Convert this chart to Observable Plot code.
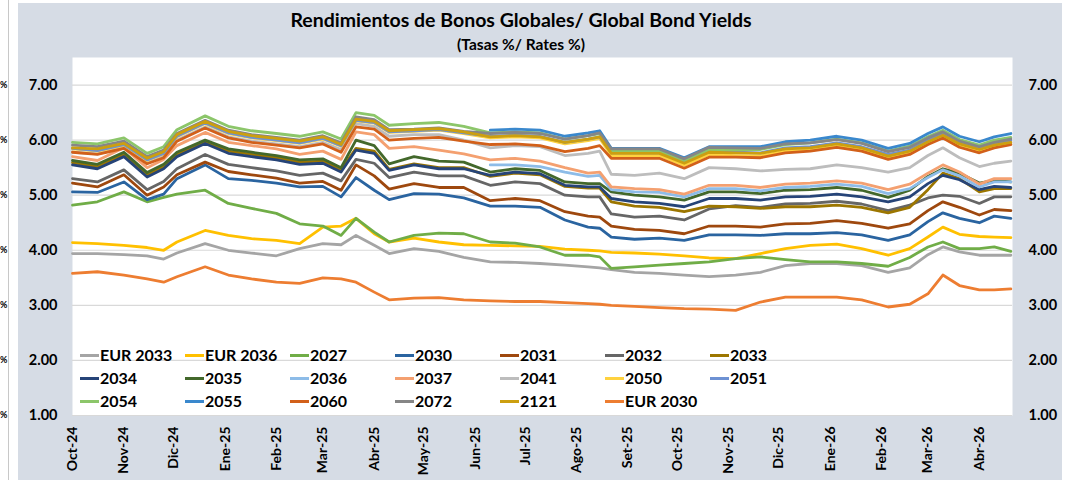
<!DOCTYPE html>
<html><head><meta charset="utf-8">
<script src="https://cdn.jsdelivr.net/npm/d3@7"></script>
<script src="https://cdn.jsdelivr.net/npm/@observablehq/plot@0.6"></script>
<style>
body{margin:0;background:#fff;font-family:Lato,"Noto Sans",sans-serif;color:#000;}
#wrap{position:relative;width:1087px;height:480px;overflow:hidden;background:#fff;}
#edge{position:absolute;left:8px;top:0;width:1px;height:480px;background:#c8c8c8;}
#panel{position:absolute;left:18px;top:3px;width:1044px;height:480px;background:#D6DCE5;}
#chart{position:absolute;left:0;top:0;}
#chart svg text{font-weight:bold;fill:#000;}
.title{position:absolute;left:0;width:1042px;text-align:center;font-weight:bold;white-space:nowrap;}
.pct{position:absolute;font-weight:bold;font-size:9px;line-height:10px;}
.lg{position:absolute;height:20px;}
.lg .sw{position:absolute;left:0;top:9px;width:19px;height:3px;}
.lg .tx{position:absolute;left:20px;top:0;font-weight:bold;font-size:16px;line-height:20px;white-space:nowrap;}
</style>
</head><body>
<div id="wrap">
  <div id="edge"></div>
  <div id="panel"></div>
  <div id="chart"></div>
  <div class="title" style="top:8px;font-size:19.5px;">Rendimientos de Bonos Globales/ Global Bond Yields</div>
  <div class="title" style="top:35px;font-size:15.5px;">(Tasas %/ Rates %)</div>
</div>
<script>
const dates = ["2024-10-01","2024-10-16","2024-11-01","2024-11-15","2024-11-25","2024-12-03","2024-12-20",
"2025-01-03","2025-01-17","2025-02-01","2025-02-15","2025-03-01","2025-03-12","2025-03-21","2025-04-01","2025-04-10",
"2025-04-25","2025-05-10","2025-05-25","2025-06-10","2025-06-25","2025-07-10","2025-07-25","2025-08-08","2025-08-15",
"2025-08-22","2025-09-05","2025-09-20","2025-10-05","2025-10-20","2025-11-05","2025-11-20","2025-12-05","2025-12-20",
"2026-01-05","2026-01-20","2026-02-05","2026-02-18","2026-03-01","2026-03-10","2026-03-20","2026-04-01","2026-04-10","2026-04-20"];

const sEUR2033 = [3.94,3.94,3.92,3.90,3.84,3.95,4.12,4.00,3.95,3.90,4.03,
4.12,4.10,4.27,4.09,3.94,4.03,3.98,3.87,3.79,3.78,3.76,
3.73,3.70,3.68,3.65,3.60,3.58,3.55,3.52,3.55,3.60,3.72,
3.76,3.76,3.72,3.60,3.68,3.92,4.06,3.97,3.91,3.91,3.91];
const sEUR2036 = [4.14,4.12,4.09,4.05,4.00,4.15,4.36,4.27,4.21,4.18,4.12,
4.42,4.44,4.58,4.30,4.15,4.22,4.15,4.10,4.09,4.08,4.07,
4.02,4.00,3.99,3.96,3.95,3.93,3.90,3.86,3.85,3.94,4.03,
4.09,4.11,4.03,3.91,4.03,4.24,4.42,4.29,4.25,4.24,4.23];
const s2027 = [4.82,4.88,5.06,4.88,4.96,5.02,5.09,4.85,4.76,4.67,4.48,
4.44,4.27,4.58,4.33,4.15,4.27,4.31,4.30,4.15,4.13,4.06,
3.91,3.91,3.88,3.67,3.70,3.73,3.76,3.79,3.85,3.88,3.83,
3.79,3.79,3.76,3.71,3.87,4.06,4.15,4.03,4.03,4.06,3.98];
const s2030 = [5.06,5.05,5.24,4.92,5.02,5.30,5.55,5.30,5.27,5.22,5.15,
5.16,4.97,5.32,5.09,4.92,5.03,5.02,4.95,4.80,4.80,4.78,
4.55,4.42,4.40,4.24,4.20,4.22,4.18,4.28,4.28,4.27,4.30,
4.30,4.32,4.28,4.18,4.28,4.52,4.68,4.58,4.50,4.62,4.58];
const s2031 = [5.22,5.15,5.37,5.00,5.15,5.37,5.60,5.43,5.37,5.31,5.22,
5.25,5.09,5.55,5.35,5.11,5.21,5.14,5.14,4.90,4.94,4.90,
4.70,4.62,4.60,4.44,4.38,4.36,4.30,4.44,4.44,4.42,4.48,
4.49,4.54,4.49,4.40,4.48,4.72,4.88,4.78,4.64,4.74,4.72];
const s2032 = [5.30,5.24,5.46,5.10,5.25,5.48,5.74,5.56,5.50,5.44,5.36,
5.40,5.26,5.65,5.58,5.32,5.42,5.35,5.35,5.18,5.24,5.21,
5.00,4.97,4.97,4.66,4.60,4.62,4.55,4.75,4.81,4.78,4.84,
4.85,4.89,4.84,4.72,4.82,4.95,5.00,4.98,4.85,4.97,4.97];
const s2033 = [5.59,5.52,5.74,5.37,5.52,5.74,5.98,5.80,5.74,5.68,5.60,
5.62,5.46,5.85,5.80,5.47,5.57,5.50,5.50,5.34,5.40,5.37,
5.16,5.13,5.13,4.88,4.80,4.78,4.70,4.80,4.79,4.76,4.79,
4.79,4.82,4.78,4.68,4.78,5.10,5.40,5.30,5.06,5.12,5.12];
const s2034 = [5.55,5.48,5.70,5.33,5.48,5.70,5.94,5.76,5.70,5.64,5.56,
5.58,5.42,5.82,5.76,5.45,5.55,5.48,5.48,5.36,5.42,5.39,
5.18,5.15,5.15,4.94,4.88,4.85,4.79,4.94,4.94,4.91,4.97,
4.98,5.02,4.97,4.88,4.97,5.21,5.36,5.28,5.10,5.16,5.14];
const s2035 = [5.63,5.56,5.78,5.41,5.56,5.78,6.00,5.84,5.78,5.72,5.64,
5.66,5.50,6.00,5.90,5.57,5.70,5.62,5.60,5.42,5.48,5.45,
5.24,5.21,5.21,5.06,5.00,4.97,4.91,5.06,5.06,5.03,5.09,
5.10,5.14,5.09,4.96,5.09,5.34,5.48,5.40,5.22,5.27,5.24];
const s2036 = [null,null,null,null,null,null,null,null,null,null,null,
null,null,null,null,null,null,null,null,5.55,5.55,5.52,
5.42,5.34,5.36,5.10,5.06,5.05,4.97,5.12,5.12,5.08,5.14,
5.16,5.20,5.16,5.03,5.12,5.32,5.46,5.35,5.15,5.24,5.24];
const s2037 = [5.70,5.63,5.86,5.50,5.65,5.90,6.14,5.96,5.90,5.84,5.74,
5.80,5.65,6.15,6.10,5.85,5.88,5.82,5.75,5.64,5.67,5.62,
5.50,5.40,5.42,5.15,5.12,5.10,5.02,5.18,5.18,5.14,5.20,
5.22,5.26,5.22,5.10,5.20,5.40,5.55,5.42,5.20,5.30,5.30];
const s2041 = [5.78,5.75,5.86,5.58,5.70,6.00,6.24,6.06,5.98,5.93,5.88,
5.96,5.83,6.30,6.25,6.07,6.10,6.10,6.00,5.86,5.90,5.88,
5.72,5.76,5.80,5.38,5.36,5.40,5.30,5.50,5.48,5.44,5.47,
5.48,5.55,5.50,5.42,5.50,5.72,5.86,5.68,5.52,5.58,5.62];
const s2050 = [5.84,5.80,5.90,5.63,5.75,6.06,6.30,6.12,6.04,5.99,5.94,
6.02,5.89,6.35,6.31,6.14,6.16,6.18,6.12,6.04,6.06,6.04,
5.93,5.99,6.03,5.72,5.72,5.72,5.54,5.74,5.72,5.71,5.80,
5.82,5.89,5.82,5.68,5.77,5.94,6.06,5.89,5.79,5.88,5.93];
const s2051 = [5.85,5.81,5.92,5.64,5.76,6.07,6.31,6.13,6.05,6.00,5.95,
6.03,5.90,6.36,6.32,6.15,6.17,6.19,6.13,6.07,6.09,6.07,
5.96,6.02,6.06,5.77,5.77,5.77,5.60,5.79,5.78,5.77,5.86,
5.88,5.95,5.88,5.74,5.82,6.00,6.11,5.95,5.85,5.93,5.99];
const s2054 = [5.96,5.93,6.04,5.76,5.88,6.19,6.44,6.25,6.17,6.12,6.07,
6.15,6.02,6.50,6.45,6.27,6.30,6.32,6.25,6.13,6.15,6.13,
6.02,6.08,6.12,5.80,5.80,5.80,5.63,5.83,5.83,5.83,5.92,
5.95,6.02,5.95,5.80,5.89,6.06,6.18,6.01,5.91,6.00,6.05];
const s2055 = [null,null,null,null,null,null,null,null,null,null,null,
null,null,null,null,null,null,null,null,6.18,6.20,6.18,
6.07,6.13,6.17,5.85,5.85,5.85,5.68,5.88,5.88,5.88,5.97,
6.00,6.07,6.00,5.85,5.94,6.12,6.24,6.07,5.97,6.06,6.12];
const s2060 = [5.78,5.74,5.85,5.57,5.68,5.98,6.22,6.04,5.96,5.91,5.86,
5.93,5.78,6.24,6.20,6.00,6.03,6.05,5.98,5.92,5.93,5.90,
5.79,5.85,5.90,5.67,5.67,5.67,5.49,5.69,5.69,5.68,5.77,
5.80,5.87,5.80,5.65,5.74,5.92,6.04,5.87,5.77,5.86,5.92];
const s2072 = [5.91,5.88,5.98,5.70,5.82,6.12,6.36,6.18,6.10,6.05,6.00,
6.08,5.95,6.42,6.37,6.19,6.20,6.22,6.16,6.12,6.14,6.12,
6.02,6.08,6.13,5.84,5.84,5.84,5.66,5.87,5.86,5.85,5.93,
5.95,6.01,5.94,5.79,5.87,6.04,6.15,5.98,5.88,5.96,6.02];
const s2121 = [5.86,5.84,5.94,5.67,5.79,6.10,6.34,6.16,6.08,6.03,5.98,
6.06,5.92,6.38,6.34,6.17,6.19,6.21,6.15,6.06,6.08,6.06,
5.96,6.02,6.06,5.76,5.76,5.76,5.58,5.78,5.77,5.76,5.84,
5.86,5.93,5.86,5.71,5.80,5.97,6.09,5.93,5.83,5.91,5.96];
const sEUR2030 = [3.58,3.61,3.55,3.48,3.42,3.52,3.70,3.55,3.48,3.42,3.40,
3.50,3.48,3.42,3.24,3.10,3.13,3.14,3.10,3.08,3.07,3.07,
3.05,3.03,3.02,3.00,2.98,2.96,2.94,2.93,2.91,3.06,3.15,
3.15,3.15,3.10,2.97,3.02,3.21,3.55,3.36,3.28,3.28,3.30];

const seriesNames = ["EUR 2033","EUR 2036","2027","2030","2031","2032","2033",
"2034","2035","2036","2037","2041","2050","2051",
"2054","2055","2060","2072","2121","EUR 2030"];
const seriesValues = [sEUR2033,sEUR2036,s2027,s2030,s2031,s2032,s2033,
s2034,s2035,s2036,s2037,s2041,s2050,s2051,
s2054,s2055,s2060,s2072,s2121,sEUR2030];
const seriesColors = ["#A5A5A5","#FFC000","#70AD47","#2A64A0","#9E480E","#666666","#9C7600",
"#264478","#43682B","#8DBCE8","#F4A070","#BDBDBD","#FFD23F","#6D91D3",
"#8CC66A","#3A88CD","#D2601A","#868686","#CC9F10","#ED7D31"];

const yTicks = [1,2,3,4,5,6,7];
const monthTicks = ["2024-10-01","2024-11-01","2024-12-01","2025-01-01","2025-02-01","2025-03-01","2025-04-01",
"2025-05-01","2025-06-01","2025-07-01","2025-08-01","2025-09-01","2025-10-01","2025-11-01","2025-12-01",
"2026-01-01","2026-02-01","2026-03-01","2026-04-01"];
const monthLabels = ["Oct-24","Nov-24","Dic-24","Ene-25","Feb-25","Mar-25","Abr-25","May-25","Jun-25",
"Jul-25","Ago-25","Set-25","Oct-25","Nov-25","Dic-25","Ene-26","Feb-26","Mar-26","Abr-26"];

const parse = d3.utcParse("%Y-%m-%d");
const rows = [];
seriesNames.forEach((name, i) => {
  seriesValues[i].forEach((v, j) => {
    if (v != null) rows.push({series: name, date: parse(dates[j]), value: v});
  });
});
const tickDates = monthTicks.map(parse);
const labelOf = new Map(tickDates.map((d, i) => [+d, monthLabels[i]]));

const plot = Plot.plot({
  width: 1087, height: 480,
  marginLeft: 72, marginRight: 75, marginTop: 57, marginBottom: 65,
  style: {background: "transparent", fontFamily: "Lato, 'Noto Sans', sans-serif", color: "#000", overflow: "visible"},
  x: {type: "utc", domain: [parse("2024-10-01"), parse("2026-04-21")]},
  y: {domain: [1, 7.5]},
  color: {domain: seriesNames, range: seriesColors},
  marks: [
    Plot.frame({fill: "white", stroke: "none"}),
    Plot.gridY(yTicks, {stroke: "#d9d9d9", strokeOpacity: 1, strokeWidth: 1.2}),
    Plot.axisY(yTicks, {anchor: "left", tickSize: 0, tickPadding: 15, tickFormat: d => d.toFixed(2), fontSize: 14.5, label: null}),
    Plot.axisY(yTicks, {anchor: "right", tickSize: 0, tickPadding: 16, tickFormat: d => d.toFixed(2), fontSize: 14.5, label: null}),
    Plot.axisX(tickDates, {tickSize: 0, tickRotate: -90, tickPadding: 11, tickFormat: d => labelOf.get(+d), fontSize: 14, label: null}),
    Plot.line(rows, {x: "date", y: "value", z: "series", stroke: "series", strokeWidth: 2.8, strokeLinejoin: "round"})
  ]
});
document.getElementById("chart").appendChild(plot);

const wrap = document.getElementById("wrap");
const ys = plot.scale("y");
yTicks.forEach(t => {
  const p = document.createElement("div");
  p.className = "pct";
  p.textContent = "%";
  p.style.left = "0px";
  p.style.top = (ys.apply(t) - 5) + "px";
  wrap.appendChild(p);
});

seriesNames.forEach((name, i) => {
  const col = i % 7, row = Math.floor(i / 7);
  const item = document.createElement("div");
  item.className = "lg";
  item.style.left = (80 + col * 105) + "px";
  item.style.top = (345 + row * 23) + "px";
  const sw = document.createElement("div");
  sw.className = "sw";
  sw.style.background = seriesColors[i];
  const tx = document.createElement("div");
  tx.className = "tx";
  tx.textContent = name;
  item.appendChild(sw);
  item.appendChild(tx);
  wrap.appendChild(item);
});
</script>
</body></html>
